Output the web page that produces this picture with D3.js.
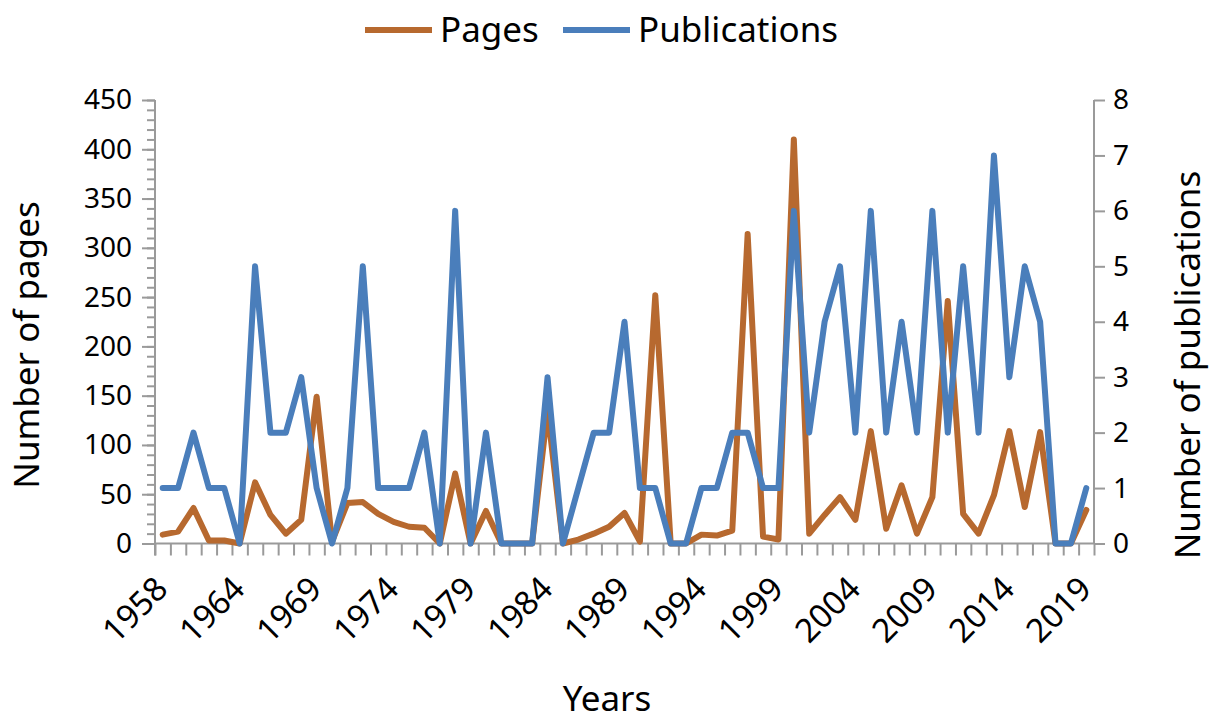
<!DOCTYPE html>
<html>
<head>
<meta charset="utf-8">
<script src="https://cdn.jsdelivr.net/npm/d3@7"></script>
<style>
  body { margin: 0; background: #fff; }
  text { font-family: "Noto Sans", sans-serif; fill: #000; }
</style>
</head>
<body>
<div id="chart"></div>
<script>
// Categories (year 1959 is absent from the source table)
var years = [1958].concat(d3.range(1960, 2020));

// Number of pages per year (left axis)
var pages = [9, 12, 36, 3, 3, 0, 62, 29, 10, 24, 149, 2, 41, 42, 30, 22, 17, 16, 0, 71,
             0, 33, 0, 0, 0, 135, 0, 4, 10, 17, 31, 2, 252, 0, 0, 9, 8, 13, 314, 7,
             4, 410, 10, 29, 47, 24, 114, 15, 59, 10, 47, 246, 30, 10, 49, 114, 37, 113, 0, 0, 34];

// Number of publications per year (right axis)
var publications = [1, 1, 2, 1, 1, 0, 5, 2, 2, 3, 1, 0, 1, 5, 1, 1, 1, 2, 0, 6,
                    0, 2, 0, 0, 0, 3, 0, 1, 2, 2, 4, 1, 1, 0, 0, 1, 1, 2, 2, 1,
                    1, 6, 2, 4, 5, 2, 6, 2, 4, 2, 6, 2, 5, 2, 7, 3, 5, 4, 0, 0, 1];

// Tick labels on the x axis (every 5th category)
var yearLabels = [1958, 1964, 1969, 1974, 1979, 1984, 1989, 1994, 1999, 2004, 2009, 2014, 2019];
var pageTicks = d3.range(0, 451, 50);
var pubTicks = d3.range(0, 9, 1);

var width = 1211, height = 721;
var plotLeft = 155, plotRight = 1094, plotTop = 100, plotBottom = 543.5;

var svg = d3.select("#chart").append("svg")
    .attr("width", width)
    .attr("height", height);

// Scales
var xScale = d3.scaleBand().domain(years).range([plotLeft, plotRight]).padding(0);
var xIndex = d3.scaleLinear().domain([0, years.length]).range([plotLeft, plotRight]);
var yLeft = d3.scaleLinear().domain([0, 450]).range([plotBottom, plotTop]);
var yRight = d3.scaleLinear().domain([0, 8]).range([plotBottom, plotTop]);

var axisColor = "#9a9a9a";

// Left axis: minor ticks then major ticks
svg.append("g")
   .attr("class", "axis minor")
   .attr("transform", "translate(" + plotLeft + ",0)")
   .call(d3.axisLeft(yLeft).tickValues(d3.range(0, 451, 10)).tickSize(8).tickFormat(""));

svg.append("g")
   .attr("class", "axis major-left")
   .attr("transform", "translate(" + plotLeft + ",0)")
   .call(d3.axisLeft(yLeft).tickValues(pageTicks).tickSize(13).tickPadding(10));

// Right axis
svg.append("g")
   .attr("class", "axis right")
   .attr("transform", "translate(" + plotRight + ",0)")
   .call(d3.axisRight(yRight).tickValues(pubTicks).tickSize(11).tickPadding(8).tickFormat(d3.format("d")));

// Bottom axis: ticks at category boundaries
svg.append("g")
   .attr("class", "axis bottom")
   .attr("transform", "translate(0," + plotBottom + ")")
   .call(d3.axisBottom(xIndex).tickValues(d3.range(0, years.length + 1)).tickSize(12).tickFormat(""));

// extend the left axis line below the x axis
svg.append("line")
   .attr("x1", plotLeft).attr("x2", plotLeft)
   .attr("y1", plotBottom).attr("y2", plotBottom + 12)
   .attr("stroke", axisColor).attr("stroke-width", 2);

svg.selectAll(".axis path.domain")
   .attr("stroke", axisColor)
   .attr("stroke-width", 2);
svg.selectAll(".axis .tick line")
   .attr("stroke", axisColor)
   .attr("stroke-width", 2);
svg.selectAll(".axis .tick text")
   .style("font-family", "'Noto Sans', sans-serif")
   .style("font-size", "28px")
   .attr("fill", "#000");
svg.select(".axis.right path.domain").attr("d", "M0," + plotTop + "V" + plotBottom);
svg.select(".axis.major-left path.domain").attr("d", "M0," + plotTop + "V" + plotBottom);
svg.select(".axis.minor path.domain").remove();
svg.select(".axis.bottom path.domain").attr("d", "M" + plotLeft + ",0H" + plotRight);

// Year labels rotated
svg.append("g")
   .selectAll("text")
   .data(yearLabels)
   .enter()
   .append("text")
   .attr("text-anchor", "end")
   .attr("font-size", "33px")
   .attr("transform", function(d) {
       return "translate(" + (xScale(d) + xScale.bandwidth() / 2 + 7) + "," + 591 + ") rotate(-45)";
   })
   .text(function(d) { return d; });

// Lines
var pagesLine = d3.line()
    .x(function(d, i) { return xScale(years[i]) + xScale.bandwidth() / 2; })
    .y(function(d) { return yLeft(d); });

var pubsLine = d3.line()
    .x(function(d, i) { return xScale(years[i]) + xScale.bandwidth() / 2; })
    .y(function(d) { return yRight(d); });

var pagesColor = "#b7692f";
var pubsColor = "#4a7ebb";

svg.append("path")
   .datum(pages)
   .attr("d", pagesLine)
   .attr("fill", "none")
   .attr("stroke", pagesColor)
   .attr("stroke-width", 6)
   .attr("stroke-linejoin", "round")
   .attr("stroke-linecap", "round");

svg.append("path")
   .datum(publications)
   .attr("d", pubsLine)
   .attr("fill", "none")
   .attr("stroke", pubsColor)
   .attr("stroke-width", 6)
   .attr("stroke-linejoin", "round")
   .attr("stroke-linecap", "round");

// Axis titles
svg.append("text")
   .attr("text-anchor", "middle")
   .attr("font-size", "35px")
   .attr("transform", "translate(39,345) rotate(-90)")
   .text("Number of pages");

svg.append("text")
   .attr("text-anchor", "middle")
   .attr("font-size", "35px")
   .attr("transform", "translate(1200,365) rotate(-90)")
   .text("Number of publications");

svg.append("text")
   .attr("text-anchor", "middle")
   .attr("font-size", "35px")
   .attr("x", 607)
   .attr("y", 711)
   .text("Years");

// Legend
var legend = [
    { name: "Pages", color: pagesColor, x: 365 },
    { name: "Publications", color: pubsColor, x: 563 }
];
var lg = svg.append("g").selectAll("g").data(legend).enter().append("g")
    .attr("transform", function(d) { return "translate(" + d.x + ",30)"; });
lg.append("line")
  .attr("x1", 0).attr("x2", 67)
  .attr("stroke", function(d) { return d.color; })
  .attr("stroke-width", 6);
lg.append("text")
  .attr("x", 75)
  .attr("y", 12)
  .attr("font-size", "35px")
  .text(function(d) { return d.name; });
</script>
</body>
</html>
